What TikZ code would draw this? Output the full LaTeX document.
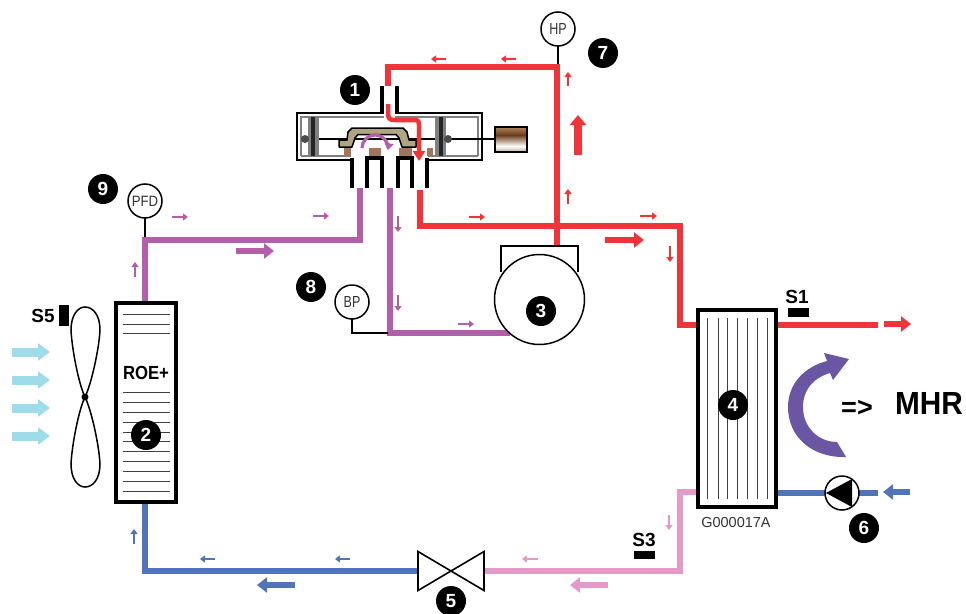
\documentclass[tikz,border=0pt]{standalone}
\usepackage{fontspec}
\setmainfont{Liberation Sans}
\usetikzlibrary{arrows.meta,calc,shapes.geometric}
\definecolor{cred}{HTML}{F1333A}
\definecolor{cpur}{HTML}{B25EA8}
\definecolor{cblu}{HTML}{4F74BA}
\definecolor{cpnk}{HTML}{E39AC8}
\definecolor{cair}{HTML}{9FDCEA}
\definecolor{cvio}{HTML}{6B56A3}
\definecolor{ctan}{HTML}{AFA582}
\definecolor{cbrn}{HTML}{A5745C}
\definecolor{csol}{HTML}{6B3A1A}
\definecolor{csot}{HTML}{B08560}
\definecolor{csob}{HTML}{C9A78F}
\definecolor{cgry}{HTML}{808080}
\tikzset{
  pipe/.style={line width=6pt,line cap=butt,line join=miter},
  flowS/.style={line width=2.4pt,-{Triangle[length=5pt,width=7pt]}},
  flowB/.style={line width=6pt,-{Triangle[length=10pt,width=15pt]}},
  flowV/.style={line width=8pt,-{Triangle[length=10pt,width=16pt]}},
  flowA/.style={cair,line width=9pt,-{Triangle[length=12pt,width=17pt]}},
  badge/.style={circle,fill=black,text=white,minimum size=30pt,inner sep=0pt,outer sep=0pt,font=\fontsize{19}{19}\selectfont\bfseries},
  gauge/.style={circle,draw=black,fill=white,line width=1.5pt,minimum size=34pt,inner sep=0pt,outer sep=0pt,text=black!80},
  sensor/.style={fill=black,inner sep=0pt,outer sep=0pt},
  lab/.style={inner sep=0pt,outer sep=0pt,font=\fontsize{19}{19}\selectfont\bfseries},
  box/.style={draw=black,fill=white,line width=4pt,inner sep=0pt,outer sep=0pt,rectangle},
  fin/.style={line width=1pt},
  wall/.style={line width=2pt,black},
  wallg/.style={line width=1.8pt,cgry},
  port/.style={line width=3.6pt,black,line cap=butt},
}
\begin{document}
\begin{tikzpicture}[x=1pt,y=-1pt]
\useasboundingbox (0,0) rectangle (966,613);
\fill[white] (0,0) rectangle (966,613);

% components (named first, so that the pipes can refer to them)
\path
 (146,402.5) node[box,draw=none,fill=none,minimum width=60pt,minimum height=199pt] (roe) {}
 (737,408.5) node[box,draw=none,fill=none,minimum width=78pt,minimum height=197pt] (hx) {}
 (539.5,299.5) node[circle,minimum size=91pt,inner sep=0pt,outer sep=0pt] (comp) {}
 (451,571) coordinate (exv)
 (842,493) node[circle,minimum size=35pt,inner sep=0pt,outer sep=0pt] (pump) {};
\coordinate (exvL) at (418,571);
\coordinate (exvR) at (484,571);
\coordinate (pS) at (360,188);
\coordinate (sS) at (390,188);
\coordinate (dS) at (420,190);
\coordinate (vT) at (388,86);
\coordinate (dTop) at (557,67);
\coordinate (hxIn) at (697,325);
\coordinate (hxOut) at (777,325);
\coordinate (rOut) at (878,325);
\coordinate (bIn) at (878,493);
\coordinate (hxW) at (777,493);
\coordinate (hxP) at (697,492);

% pipes
\draw[pipe,cpur] (pS) -- (360,240) -- (145,240) -- (145,302);
\draw[pipe,cpur] (sS) -- (390,333) -- (510,333);
\draw[pipe,cred] (vT) -- (388,67) -- (557,67) -- (557,246);
\draw[pipe,cred] (dS) -- (420,226) -- (680,226) -- (680,325) -- (hxIn);
\draw[pipe,cred] (hxOut) -- (rOut);
\draw[pipe,cblu] (hxW) -- (bIn);
\draw[pipe,cpnk] (hxP) -- (680,492) -- (680,571) -- (exvR);
\draw[pipe,cblu] (exvL) -- (145,571) -- (145,503);

% flow arrows: red
\foreach \a/\b in {{446,59}/{431,59},{516,59}/{501,59},{568,86}/{568,72},{568,204}/{568,189},{469,217}/{485,217},{640,216}/{657,216},{670,246}/{670,262}}
  \draw[flowS,cred] (\a) -- (\b);
\draw[flowV,cred] (578,155) -- (578,115);
\draw[flowB,cred] (605,240) -- (644,240);
\draw[flowB,cred] (884,324) -- (911,324);
% flow arrows: purple
\foreach \a/\b in {{172,217}/{188,217},{313,216}/{329,216},{135,277}/{135,262},{398,216}/{398,232},{398,295}/{398,311},{458,324}/{474,324}}
  \draw[flowS,cpur] (\a) -- (\b);
\draw[flowB,cpur] (236,251) -- (274,251);
% flow arrows: blue
\foreach \a/\b in {{134,544}/{134,529},{215,559}/{200,559},{350,559}/{335,559}}
  \draw[flowS,cblu] (\a) -- (\b);
\draw[flowB,cblu] (295,585) -- (257,585);
\draw[flowB,cblu] (910,492) -- (883,492);
% flow arrows: pink
\draw[flowS,cpnk] (538,559) -- (522,559);
\draw[flowS,cpnk] (669,515) -- (669,530);
\draw[flowB,cpnk] (608,585) -- (570,585);
% air
\foreach \y in {352,380,408,436} \draw[flowA] (12,\y) -- (50,\y);

% four-way valve: housing
\draw[wallg] (301,156) -- (301,117) -- (384,117);
\draw[wallg] (395,117) -- (478,117) -- (478,156);
\draw[wallg] (301,156) -- (351,156);
\draw[wallg] (428,156) -- (478,156);
\draw[wall] (351,160) -- (297,160) -- (297,113) -- (383,113);
\draw[wall] (397,113) -- (482,113) -- (482,160) -- (428,160);
\draw[port] (382,86) -- (382,114);
\draw[port] (397,86) -- (397,114);
% rod and pistons
\draw[line width=1.6pt] (303,139) -- (495,139);
\fill[cgry] (308,117) rectangle (319,156);
\fill[black!85] (311,117) rectangle (315,156);
\fill[cgry] (435,117) rectangle (446,156);
\fill[black!85] (439,117) rectangle (443,156);
\fill[black!70] (305,139) circle (4pt);
\fill[black!70] (448,139) circle (4pt);
% pads and slide
\fill[cbrn] (344,148) rectangle (351,156);
\fill[cbrn] (369,148) rectangle (381,156);
\fill[cbrn] (399,148) rectangle (412,156);
\fill[cbrn] (427,148) rectangle (433,156);
\draw[fill=ctan,line width=1.5pt,line join=round]
  (339,147) -- (339,140) -- (347,140) -- (348,132) -- (352,128) -- (403,128) -- (407,132) -- (409,140) -- (416,140) -- (416,147) -- (402,147) -- (399,138) -- (396,134.5) -- (358,134.5) -- (355,138) -- (352,147) -- cycle;
% ports
\draw[port] (352,158) -- (352,188);
\draw[port] (367,188) -- (367,158) -- (382,158) -- (382,188);
\draw[port] (398,188) -- (398,158) -- (412,158) -- (412,188);
\draw[port] (427,158) -- (427,188);
% reversal arrow in the slide
\draw[cpur,line width=3.2pt,-{Triangle[length=7pt,width=9pt]}] (362,148) arc (180:370:13);
% discharge path through the valve
\draw[cred,line width=4.5pt,line join=round,-{Triangle[length=10pt,width=12pt]}]
  (388,104) -- (388,113) .. controls (388,119) and (390,120) .. (395,120) -- (414,120) .. controls (418,120) and (419,121) .. (419,125) -- (419,161);
% solenoid
\shade[top color=csot,bottom color=csol] (495,127) rectangle (527,135);
\shade[top color=csol,bottom color=white] (495,135) rectangle (527,146);
\shade[top color=white,bottom color=csob] (495,146) rectangle (527,152);
\draw[line width=1.6pt] (495,127) rectangle (527,152);

% compressor
\draw[line width=1.5pt,fill=white] (501,272) -- (501,246) -- (578,246) -- (578,272);
\draw[line width=1.5pt,fill=white] (comp.center) circle (45pt);
\draw[line width=1.5pt] (352,319) -- (352,333) -- (388,333);
\draw[line width=1.5pt] (558,46) -- (558,64);
\draw[line width=1.5pt] (145,218) -- (145,237);

% gauges
\node[gauge,font=\fontsize{16}{16}\selectfont] (hp) at (558,29) {\scalebox{.78}[1]{HP}};
\node[gauge,font=\fontsize{16}{16}\selectfont] (bp) at (352,302) {\scalebox{.78}[1]{BP}};
\node[gauge,font=\fontsize{15}{15}\selectfont] (pfd) at (145,201) {\scalebox{.88}[1]{PFD}};

% condenser ROE+
\draw[box] (116,303) rectangle (176,502);
\foreach \y in {314,324,333,392,402,412,422,432,441,451,461,471,481,491}
  \draw[fin,black!75] (123,\y) -- (170,\y);
\node[inner sep=0pt,font=\fontsize{19}{19}\selectfont\bfseries,xscale=.88] (roetxt) at (146,373) {ROE+};

% fan
\draw[line width=1.5pt,fill=white] (85,397) .. controls (79,385) and (72,350) .. (71,330) .. controls (71,315) and (78,307) .. (85,307) .. controls (93,307) and (100,315) .. (100,330) .. controls (99,350) and (91,385) .. (85,397)
  .. controls (79,409) and (72,444) .. (71,464) .. controls (71,479) and (78,487) .. (85,487) .. controls (93,487) and (100,479) .. (100,464) .. controls (99,444) and (91,409) .. (85,397) -- cycle;
\fill (85,397) circle (3.5pt);
\node[lab] (s5) at (43,316) {S5};
\node[sensor,minimum width=10pt,minimum height=21pt] (s5r) at (64,315.5) {};

% heat exchanger
\draw[box] (698,310) rectangle (776,507);
\foreach \x in {707,718,727,737,747,757,767}
  \draw[fin,black!75] (\x,318) -- (\x,499);
\node[lab] (s1) at (797,297) {S1};
\node[sensor,minimum width=21pt,minimum height=9pt] (s1r) at (798.5,312.5) {};
\node[lab] (s3) at (644,540) {S3};
\node[sensor,minimum width=21pt,minimum height=8pt] (s3r) at (644.5,555) {};
\node[inner sep=0pt,text=black!80,font=\fontsize{14.5}{14.5}\selectfont] (ref) at (736,523) {G000017A};

% pump
\draw[line width=1.5pt,fill=white] (pump.center) circle (17pt);
\fill (826,493) -- (852,479) -- (852,507) -- cycle;

% expansion valve
\draw[line width=1.6pt,fill=white,line join=miter] (418,551.5) -- (484,590.5) -- (484,551.5) -- (418,590.5) -- cycle;

% heat recovery arrow
\fill[cvio] (846,457) .. controls (812,458) and (788,437) .. (788,407) .. controls (788,384) and (804,367) .. (827,361)
  -- (824,353) -- (849,359) -- (833,380) -- (830,373) .. controls (813,378) and (803,390) .. (803,407) .. controls (803,427) and (818,442) .. (837,442) -- cycle;
\node[inner sep=0pt,font=\fontsize{27}{27}\selectfont\bfseries] (eq) at (857,408) {=>};
\node[inner sep=0pt,font=\fontsize{32}{32}\selectfont\bfseries,xscale=.93] (mhr) at (929,403) {MHR};

% number badges
\node[badge] (b1) at (355,90) {1};
\node[badge] (b2) at (146,435) {2};
\node[badge] (b3) at (541,311) {3};
\node[badge] (b4) at (733,405) {4};
\node[badge] (b5) at (451,601) {5};
\node[badge] (b6) at (864,528) {6};
\node[badge] (b7) at (603,53) {7};
\node[badge] (b8) at (311,287) {8};
\node[badge] (b9) at (103,189) {9};
\end{tikzpicture}
\end{document}
